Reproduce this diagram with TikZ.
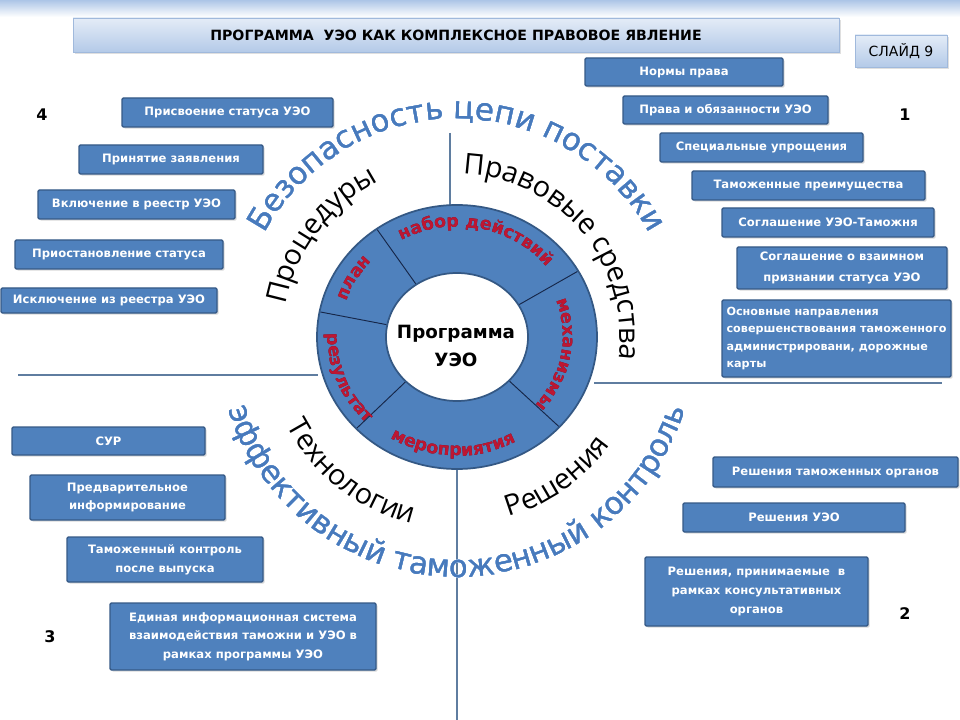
\documentclass[tikz,border=0pt]{standalone}
\usepackage{fontspec}
\setmainfont{DejaVu Sans}
\newfontfamily\osfont{Open Sans}
\usetikzlibrary{decorations.text,shadows,calc}

\definecolor{boxfill}{RGB}{79,129,189}
\definecolor{boxborder}{RGB}{54,90,135}
\definecolor{ringfill}{RGB}{79,129,189}
\definecolor{ringborder}{RGB}{52,88,132}
\definecolor{divline}{RGB}{22,38,72}
\definecolor{redtxt}{RGB}{190,22,50}
\definecolor{redshade}{RGB}{95,12,32}
\definecolor{glowblue}{RGB}{160,194,236}
\definecolor{glowouter}{RGB}{205,224,248}
\definecolor{bigblue}{RGB}{72,122,188}
\definecolor{gridline}{RGB}{95,125,160}
\definecolor{titletop}{RGB}{228,236,247}
\definecolor{titlebot}{RGB}{180,202,232}
\definecolor{titleborder}{RGB}{160,185,220}
\definecolor{bandtop}{RGB}{172,197,231}

\newcommand\boxfont{\bfseries\fontsize{8.7}{14}\selectfont}
\newcommand\redfmt{\bfseries\fontsize{13}{13}\selectfont}
\newcommand\blkfmt{\osfont\fontsize{21.5}{21.5}\selectfont}
\newcommand\glowfmt{\fontsize{23}{23}\selectfont}

\tikzset{
  infobox/.style={draw=boxborder, fill=boxfill, line width=1.1pt, text=white,
    font=\boxfont, align=center, inner sep=1pt, rounded corners=1pt,
    drop shadow={opacity=0.3, shadow xshift=1.2pt, shadow yshift=-1.2pt}},
  lightbox/.style={draw=titleborder, line width=0.6pt, top color=titletop, bottom color=titlebot,
    inner sep=1pt, drop shadow={opacity=0.25, shadow xshift=1.2pt, shadow yshift=-1.5pt}},
  numlabel/.style={font=\bfseries\fontsize{12}{12}\selectfont, text=black},
  gridrule/.style={draw=gridline, line width=0.8pt},
  divider/.style={draw=divline, line width=0.7pt},
}

% box by corners (image pixel coordinates)
\newcommand\bx[7][]{\node[infobox,#1,minimum width={(#5-#3)*0.75pt},minimum height={(#6-#4)*0.75pt}] (#2) at ({(#3+#5)/2},{-(#4+#6)/2}) {#7};}

% glowing curved text on a circle about C
\newcommand\glowtext[4]{%
  \foreach \gx/\gy in {3.2/0,-3.2/0,0/3.2,0/-3.2,2.3/2.3,-2.3/2.3,2.3/-2.3,-2.3/-2.3}{
    \path[shift={(\gx,\gy)},decorate,decoration={text along path,text align=center,text color=glowouter,text={|\glowfmt|#4}}]
      (C) ++(#2:#1) arc[start angle=#2,end angle=#3,radius=#1];
  }
  \foreach \gx/\gy in {1.7/0,-1.7/0,0/1.7,0/-1.7,1.2/1.2,-1.2/1.2,1.2/-1.2,-1.2/-1.2}{
    \path[shift={(\gx,\gy)},decorate,decoration={text along path,text align=center,text color=glowblue,text={|\glowfmt|#4}}]
      (C) ++(#2:#1) arc[start angle=#2,end angle=#3,radius=#1];
  }
  \foreach \gx/\gy in {0.45/0,-0.45/0}{
    \path[shift={(\gx,\gy)},decorate,decoration={text along path,text align=center,text color=bigblue,text={|\glowfmt|#4}}]
      (C) ++(#2:#1) arc[start angle=#2,end angle=#3,radius=#1];
  }
}

% black curved text
\newcommand\blacktext[4]{%
  \path[decorate,decoration={text along path,text align=center,text color=black,text={|\blkfmt|#4}}]
    (C) ++(#2:#1) arc[start angle=#2,end angle=#3,radius=#1];
}

% red text in the ring, on an ellipse about C
\newcommand\ringtext[5]{%
  \path[shift={(0.9,-0.9)},decorate,decoration={text along path,text align=center,text color=redshade,text={|\redfmt|#5}}]
    (C) ++(#3:#1 and #2) arc[start angle=#3,end angle=#4,x radius=#1,y radius=#2];
  \path[decorate,decoration={text along path,text align=center,text color=redtxt,text={|\redfmt|#5}}]
    (C) ++(#3:#1 and #2) arc[start angle=#3,end angle=#4,x radius=#1,y radius=#2];
}

\begin{document}
\begin{tikzpicture}[x=0.75pt,y=0.75pt]
\useasboundingbox (0,0) rectangle (960,-720);
\fill[white] (0,0) rectangle (960,-720);
\shade[top color=bandtop, bottom color=white] (0,0) rectangle (960,-17);

\coordinate (C) at (457,-337);

% title and slide label
\node[lightbox, minimum width={766*0.75pt}, minimum height={34*0.75pt},
  font=\bfseries\fontsize{10.6}{12}\selectfont] (title) at (456,-35)
  {ПРОГРАММА~~УЭО КАК КОМПЛЕКСНОЕ ПРАВОВОЕ ЯВЛЕНИЕ};
\node[lightbox, minimum width={92*0.75pt}, minimum height={32*0.75pt},
  font=\fontsize{10.5}{12}\selectfont] (slide) at (901,-51) {СЛАЙД 9};

% quadrant rules
\coordinate (hl1) at (18,-375);  \coordinate (hl2) at (318,-375);
\coordinate (hr1) at (594,-383); \coordinate (hr2) at (942,-383);
\coordinate (vt1) at (450,-133); \coordinate (vt2) at (450,-212);
\coordinate (vb1) at (457,-462); \coordinate (vb2) at (457,-720);
\draw[gridrule] (hl1) -- (hl2);
\draw[gridrule] (hr1) -- (hr2);
\draw[gridrule] (vt1) -- (vt2);
\draw[gridrule] (vb1) -- (vb2);

% big glowing arcs
\glowtext{218}{180}{0}{Безопасность цепи поставки}
\glowtext{240}{179}{361}{эффективный таможенный контроль}

% black arcs
\blacktext{174}{200}{86}{Процедуры}
\blacktext{163}{100}{-20}{Правовые средства}
\blacktext{192}{190}{274}{Технологии}
\blacktext{187}{270}{341}{Решения}

% ring
\fill[ringfill, even odd rule] (C) ellipse[x radius=140, y radius=132] (C) ellipse[x radius=71, y radius=64];
\draw[ringborder, line width=1.3pt] (C) ellipse[x radius=140, y radius=132];
\draw[ringborder, line width=1.3pt] (C) ellipse[x radius=71, y radius=64];
\foreach \a in {30,125,169,224,317}{
  \draw[divider] ($(C)+(\a:72 and 65)$) -- ($(C)+(\a:139 and 131)$);
}
\ringtext{117}{110}{171}{127}{план}
\ringtext{117}{110}{122}{36}{набор действий}
\ringtext{106}{101}{26}{-47}{механизмы}
\ringtext{129}{121}{175}{229}{результат}
\ringtext{126}{119}{233}{303}{мероприятия}
\node[font=\bfseries\fontsize{13.7}{21.5}\selectfont, align=center] (prog) at (456,-346) {Программа\\УЭО};

% quadrant 1 boxes
\bx{n1}{585}{58}{783}{86}{Нормы права}
\bx{n2}{623}{96}{828}{124}{Права и обязанности УЭО}
\bx{n3}{660}{133}{863}{162}{Специальные упрощения}
\bx{n4}{692}{171}{925}{200}{Таможенные преимущества}
\bx{n5}{722}{208}{934}{237}{Соглашение УЭО-Таможня}
\bx[font=\bfseries\fontsize{8.7}{16}\selectfont]{n6}{737}{247}{947}{289}{Соглашение о взаимном\\признании статуса УЭО}
\bx[font=\bfseries\fontsize{8.4}{13}\selectfont, align=left]{n7}{722}{300}{951}{377}{Основные направления\\совершенствования таможенного\\администрировани, дорожные\\карты}

% quadrant 4 boxes
\bx{p1}{122}{98}{333}{127}{Присвоение статуса УЭО}
\bx{p2}{79}{145}{263}{174}{Принятие заявления}
\bx{p3}{38}{190}{235}{219}{Включение в реестр УЭО}
\bx{p4}{15}{240}{223}{269}{Приостановление статуса}
\bx{p5}{1}{288}{217}{313}{Исключение из реестра УЭО}

% quadrant 3 boxes
\bx{t1}{12}{427}{205}{455}{СУР}
\bx{t2}{30}{475}{225}{520}{Предварительное\\информирование}
\bx{t3}{67}{537}{263}{582}{Таможенный контроль\\после выпуска}
\bx{t4}{110}{603}{376}{670}{Единая информационная система\\взаимодействия таможни и УЭО в\\рамках программы УЭО}

% quadrant 2 boxes
\bx{r1}{713}{457}{958}{487}{Решения таможенных органов}
\bx{r2}{683}{503}{905}{532}{Решения УЭО}
\bx{r3}{645}{557}{868}{626}{Решения, принимаемые~~в\\рамках консультативных\\органов}

% quadrant numbers
\node[numlabel] (num1) at (905,-115) {1};
\node[numlabel] (num2) at (905,-614) {2};
\node[numlabel] (num3) at (50,-637) {3};
\node[numlabel] (num4) at (42,-115) {4};
\end{tikzpicture}
\end{document}
